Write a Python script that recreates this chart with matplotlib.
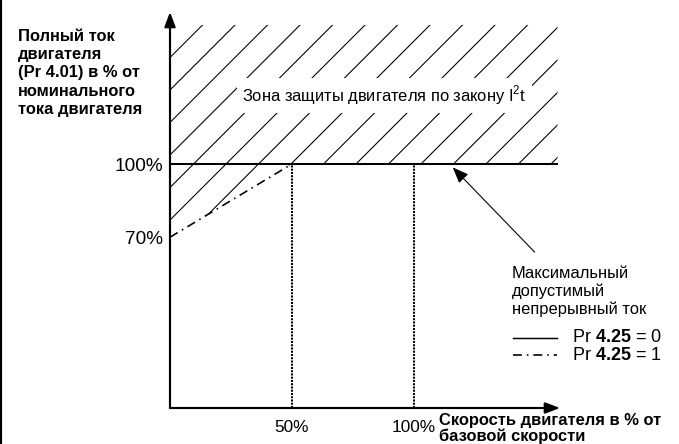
import numpy as np
import matplotlib
matplotlib.use('Agg')
import matplotlib.pyplot as plt
from matplotlib.lines import Line2D

plt.rcParams['font.family'] = ['Liberation Sans', 'DejaVu Sans']
plt.rcParams['mathtext.fontset'] = 'custom'
plt.rcParams['mathtext.rm'] = 'Liberation Sans'
plt.rcParams['mathtext.bf'] = 'Liberation Sans:bold'
plt.rcParams['hatch.linewidth'] = 0.4

# data (speed % of base, current % of rated)
pr0_speed = [0, 159]
pr0_current = [100, 100]
pr1_speed = [0, 50, 159]
pr1_current = [70, 100, 100]
marker_speeds = [50, 100]
zone_speed = [0, 50, 159, 159, 0]
zone_current = [70, 100, 100, 157, 157]
xtick_vals = [50, 100]
xtick_labels = ['50%', '100%']
ytick_vals = [70, 100]
ytick_labels = ['70%', '100%']

W, H, DPI = 679, 444, 195
FS = 6.1
TFS = 7.0
DASHDOT = (0, (5.5, 3.0, 1, 3.0))


def fx(px):
    return px / W


def fy(py):
    return 1 - py / H


fig = plt.figure(figsize=(W / DPI, H / DPI), dpi=DPI)
ax = fig.add_axes([fx(170), fy(408), (560 - 170) / W, (408 - 12) / H])
ax.set_xlim(0, 160)
ax.set_ylim(0, 162.3)
for s in ax.spines.values():
    s.set_visible(False)

# hatched protection zone
ax.fill(zone_speed, zone_current, facecolor='none', edgecolor='black',
        hatch='//', linewidth=0)

ax.plot(pr0_speed, pr0_current, color='black', lw=0.75, solid_capstyle='butt')
ax.plot(pr1_speed, pr1_current, color='black', lw=0.6, linestyle=DASHDOT)
for s in marker_speeds:
    ax.plot([s, s], [0, 100], color='black', lw=0.75, linestyle=(0, (1, 0.6)))

# axes with arrows
arrow = dict(arrowstyle='-|>,head_length=0.45,head_width=0.17', color='black',
             lw=0.8, mutation_scale=10, shrinkA=0, shrinkB=0)
ax.annotate('', xy=(0, 162.3), xytext=(0, 0), arrowprops=arrow,
            annotation_clip=False)
ax.annotate('', xy=(160, 0), xytext=(0, 0), arrowprops=arrow,
            annotation_clip=False)

ax.set_xticks(xtick_vals, xtick_labels)
ax.set_yticks(ytick_vals, ytick_labels)
ax.tick_params(axis='x', length=0, pad=4.5, labelsize=6.4)
ax.tick_params(axis='y', length=0, pad=2.5, labelsize=TFS)

ax.text(88, 128, 'Зона защиты двигателя по закону I$^2$t', fontsize=FS,
        ha='center', va='center',
        bbox=dict(facecolor='white', edgecolor='none', pad=2))

# pointer arrow to the 100% line
ax.annotate('', xy=(116, 98.6), xytext=(149.6, 63.9),
            arrowprops=dict(arrowstyle='-|>,head_length=0.5,head_width=0.2',
                            color='black', lw=0.4, mutation_scale=10,
                            shrinkA=0, shrinkB=0),
            annotation_clip=False)

fig.text(fx(18), fy(29), 'Полный ток\nдвигателя\n(Pr 4.01) в % от\nноминального\nтока двигателя',
         fontsize=FS, fontweight='bold', ha='left', va='top', linespacing=1.27)
fig.text(fx(439), fy(413), 'Скорость двигателя в % от\nбазовой скорости',
         fontsize=FS, fontweight='bold', ha='left', va='top', linespacing=1.05)
fig.text(fx(512), fy(266), 'Максимальный\nдопустимый\nнепрерывный ток',
         fontsize=FS, ha='left', va='top', linespacing=1.2)

# legend keys
fig.add_artist(Line2D([fx(513), fx(557)], [fy(338), fy(338)], color='black', lw=0.55))
fig.add_artist(Line2D([fx(513), fx(557)], [fy(355), fy(355)], color='black', lw=0.6,
                      linestyle=DASHDOT))
fig.text(fx(572), fy(338), r'Pr $\mathbf{4.25}$ = 0', fontsize=TFS * 0.95, ha='left', va='center')
fig.text(fx(572), fy(355), r'Pr $\mathbf{4.25}$ = 1', fontsize=TFS * 0.95, ha='left', va='center')

# left frame edge
fig.add_artist(Line2D([fx(1), fx(1)], [0, 1], color='black', lw=0.8))

fig.savefig('out.png', dpi=DPI)
